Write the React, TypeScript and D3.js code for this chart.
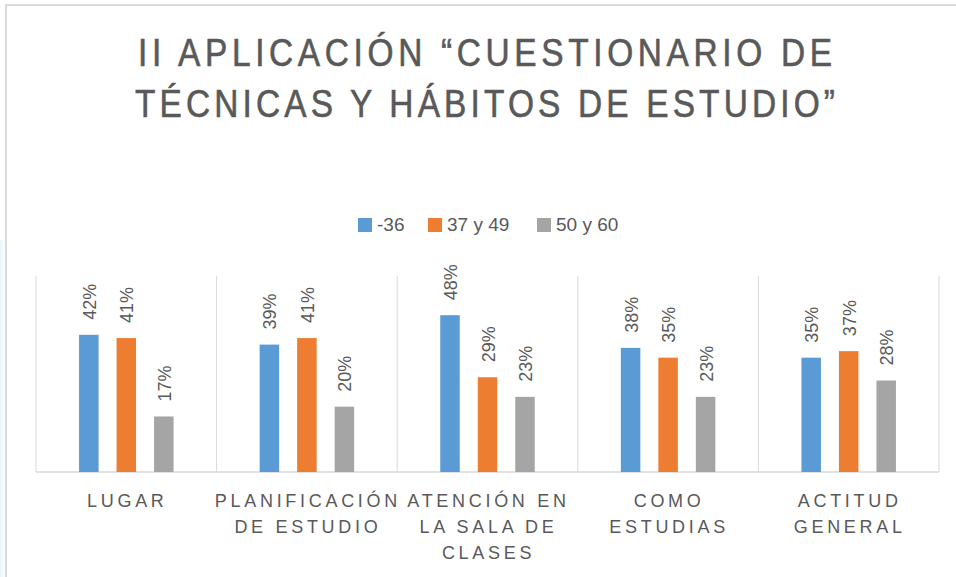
import React from "react";
import * as d3 from "d3";

const categories = [
  ["LUGAR"],
  ["PLANIFICACIÓN", "DE ESTUDIO"],
  ["ATENCIÓN EN", "LA SALA DE", "CLASES"],
  ["COMO", "ESTUDIAS"],
  ["ACTITUD", "GENERAL"],
];
const seriesNames = ["-36", "37 y 49", "50 y 60"];
const seriesA = [0.42, 0.39, 0.48, 0.38, 0.35];
const seriesB = [0.41, 0.41, 0.29, 0.35, 0.37];
const seriesC = [0.17, 0.2, 0.23, 0.23, 0.28];
const colors = ["#5B9BD5", "#ED7D31", "#A5A5A5"];
const titleLines = ["II APLICACIÓN “CUESTIONARIO DE", "TÉCNICAS Y HÁBITOS DE ESTUDIO”"];

const W = 956;
const H = 577;
const textColor = "#595959";

export default function App() {
  const series = [seriesA, seriesB, seriesC];
  const catKeys = categories.map((c) => c.join(" "));
  const x = d3.scaleBand<string>().domain(catKeys).range([36, 939]).padding(0);
  const xs = d3
    .scaleBand<number>()
    .domain([0, 1, 2])
    .range([0, x.bandwidth()])
    .paddingInner(0.48)
    .paddingOuter(1.148);
  const y = d3.scaleLinear().domain([0, 0.6]).range([472, 276]);
  const fmt = d3.format(".0%");

  const legendOffsets = [0, 70, 179];
  const legendX = 358;
  const sx = 0.88;

  return (
    <svg
      width={W}
      height={H}
      style={{ position: "absolute", left: 0, top: 0, background: "#fff" }}
      fontFamily="'Liberation Sans', 'Open Sans', sans-serif"
    >
      <defs>
        <linearGradient id="glow" x1="0" x2="1" y1="0" y2="0">
          <stop offset="0" stopColor="#e6f6fb" />
          <stop offset="1" stopColor="#ffffff" />
        </linearGradient>
      </defs>
      <rect x={0} y={0} width={W} height={H} fill="#fff" />
      <rect x={0} y={240} width={6} height={H - 240} fill="url(#glow)" />
      {/* frame */}
      <line x1={6} y1={5} x2={W} y2={5} stroke="#D9D9D9" strokeWidth={2} />
      <line x1={6} y1={4} x2={6} y2={H} stroke="#D9D9D9" strokeWidth={2} />

      {/* title */}
      {titleLines.map((t, i) => (
        <g key={i} transform={`translate(485,${66 + i * 51}) scale(${sx},1)`}>
          <text
            x={0}
            y={0}
            textAnchor="middle"
            fill={textColor}
            fontSize={38}
            stroke={textColor}
            strokeWidth={0.6}
            textLength={(i === 0 ? 694 : 700) / sx}
            lengthAdjust="spacing"
          >
            {t}
          </text>
        </g>
      ))}

      {/* legend */}
      {seriesNames.map((s, i) => (
        <g key={s} transform={`translate(${legendX + legendOffsets[i]},218)`}>
          <rect x={0} y={0} width={14} height={14} fill={colors[i]} />
          <text x={19} y={13} fontSize={19} fill={textColor}>
            {s}
          </text>
        </g>
      ))}

      {/* grid */}
      {catKeys.map((k) => (
        <line
          key={"g" + k}
          x1={x(k)!}
          x2={x(k)!}
          y1={y(0.6)}
          y2={y(0)}
          stroke="#D9D9D9"
          strokeWidth={1}
        />
      ))}
      <line x1={x.range()[1]} x2={x.range()[1]} y1={y(0.6)} y2={y(0)} stroke="#D9D9D9" strokeWidth={1} />
      <line x1={x.range()[0]} x2={x.range()[1]} y1={y(0)} y2={y(0)} stroke="#D9D9D9" strokeWidth={1.5} />

      {/* bars */}
      {catKeys.map((k, ci) =>
        series.map((vals, si) => {
          const bx = x(k)! + xs(si)!;
          const by = y(vals[ci]);
          const cx = bx + xs.bandwidth() / 2;
          return (
            <g key={k + si}>
              <rect x={bx} y={by} width={xs.bandwidth()} height={y(0) - by} fill={colors[si]} />
              <text
                transform={`translate(${cx + 1},${by - 15}) rotate(-90)`}
                dominantBaseline="central"
                fontSize={18}
                fill={textColor}
              >
                {fmt(vals[ci])}
              </text>
            </g>
          );
        })
      )}

      {/* category labels */}
      {categories.map((lines, ci) => (
        <text
          key={"c" + ci}
          x={x(catKeys[ci])! + x.bandwidth() / 2 + 1}
          y={507}
          textAnchor="middle"
          fontSize={18}
          letterSpacing={3.7}
          fill={textColor}
        >
          {lines.map((l, li) => (
            <tspan key={li} x={x(catKeys[ci])! + x.bandwidth() / 2 + 1} dy={li === 0 ? 0 : 26}>
              {l}
            </tspan>
          ))}
        </text>
      ))}
    </svg>
  );
}
